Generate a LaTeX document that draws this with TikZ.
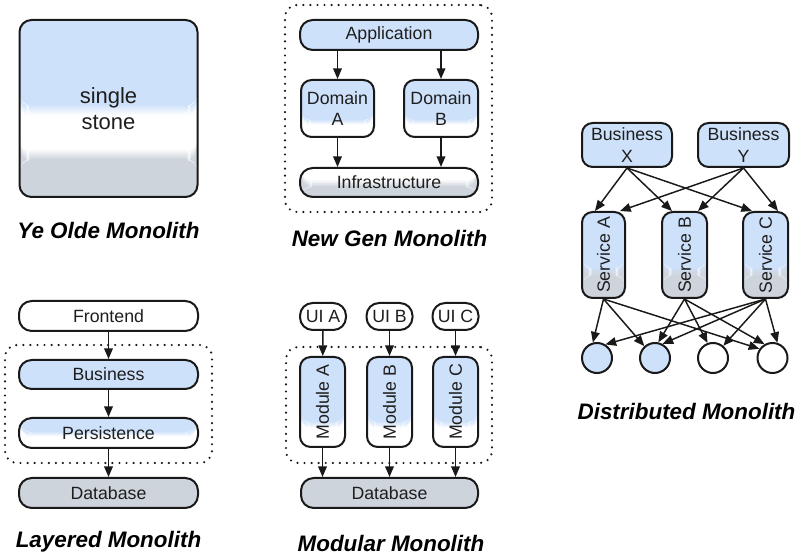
\documentclass[tikz,border=0pt]{standalone}
\usepackage{fontspec}
\usepackage{graphicx}
\setmainfont{Liberation Sans}
\usetikzlibrary{arrows.meta,calc}
\definecolor{lb}{RGB}{206,225,250}
\definecolor{lg}{RGB}{206,212,220}
\definecolor{ln}{RGB}{25,25,25}
\definecolor{tx}{RGB}{30,30,30}
\newcommand\gradband[4]{%
  \foreach \gi in {0,...,11}{%
    \pgfmathsetmacro\gfa{#3+(#4-#3)*\gi/12}%
    \pgfmathsetmacro\gfb{#3+(#4-#3)*(\gi+1)/12+0.004}%
    \pgfmathsetmacro\gpc{100-(\gi+0.5)*100/12}%
    \fill[#1!\gpc!#2] ($(pnw)!\gfa!(pnw|-pse)$) rectangle ($(pse|-pnw)!\gfb!(pse)$);
  }}
\begin{document}
\begin{tikzpicture}[x=0.75pt,y=-0.75pt,
  every node/.style={font=\fontsize{13.3}{16}\selectfont, text=tx},
  base/.style 2 args={draw=ln, line width=1.5pt, minimum width=#1*0.75pt, minimum height=#2*0.75pt, inner sep=0pt, align=center},
  pill/.style={rounded corners=9.5pt},
  rbox/.style={rounded corners=8pt},
  dotbox/.style 2 args={draw=ln, line width=1.8pt, dash pattern=on 0pt off 5.3pt, line cap=round, rounded corners=9pt, minimum width=#1*0.75pt, minimum height=#2*0.75pt, inner sep=0pt},
  twotone/.style n args={4}{path picture={
    \coordinate (pnw) at (path picture bounding box.north west);
    \coordinate (pse) at (path picture bounding box.south east);
    \fill[#1] (pnw) rectangle ($(pse|-pnw)!#3+0.004!(pse)$);
    \gradband{#1}{#2}{#3}{#4}
    \fill[#2] ($(pnw)!#4!(pnw|-pse)$) rectangle (pse);
  }},
  stonefill/.style={path picture={
    \coordinate (pnw) at (path picture bounding box.north west);
    \coordinate (pse) at (path picture bounding box.south east);
    \fill[lb] (pnw) rectangle ($(pse|-pnw)!0.484!(pse)$);
    \gradband{lb}{white}{0.48}{0.54}
    \fill[white] ($(pnw)!0.54!(pnw|-pse)$) rectangle ($(pse|-pnw)!0.734!(pse)$);
    \gradband{white}{lg}{0.73}{0.79}
    \fill[lg] ($(pnw)!0.79!(pnw|-pse)$) rectangle (pse);
  }},
  arr/.style={-{Triangle[length=8pt,width=6.5pt]}, line width=1.1pt, draw=ln},
  title/.style={font=\fontsize{16.8}{20}\selectfont\bfseries\itshape, text=black}
]
\path[use as bounding box] (0,0) rectangle (800,559);

% ---------- Ye Olde Monolith
\node[base={178}{177}, rounded corners=9pt, stonefill, font=\fontsize{16.5}{20}\selectfont] (stone) at (108.5,108.5) {single\\stone};
\node[title] (t1) at (108.5,231) {Ye Olde Monolith};

% ---------- New Gen Monolith
\node[dotbox={207}{207}] (ngbox) at (388.5,108.5) {};
\node[base={178}{30}, pill, fill=lb] (app) at (389,35) {Application};
\node[base={73}{57}, rbox, twotone={lb}{white}{0.70}{0.79}] (domA) at (337.5,108.5) {Domain\\A};
\node[base={74}{57}, rbox, twotone={lb}{white}{0.70}{0.79}] (domB) at (441,108.5) {Domain\\B};
\node[base={178}{29}, pill, twotone={white}{lg}{0.40}{0.65}] (infra) at (389,182.5) {Infrastructure};
\draw[arr] (app.south -| domA) -- (domA);
\draw[arr] (app.south -| domB) -- (domB);
\draw[arr] (domA) -- (domA |- infra.north);
\draw[arr] (domB) -- (domB |- infra.north);
\node[title] (t2) at (389.5,238.5) {New Gen Monolith};

% ---------- Layered Monolith
\node[dotbox={207}{118}] (lbox) at (108.5,404) {};
\node[base={179}{30}, pill, fill=white] (fe) at (108.5,316) {Frontend};
\node[base={179}{29}, pill, fill=lb] (bus) at (108.5,374.5) {Business};
\node[base={179}{30}, pill, twotone={lb}{white}{0.47}{0.63}] (per) at (108.5,433) {Persistence};
\node[base={179}{30}, pill, fill=lg] (db1) at (108.5,493) {Database};
\draw[arr] (fe) -- (bus);
\draw[arr] (bus) -- (per);
\draw[arr] (per) -- (db1);
\node[title] (t3) at (108.5,541.5) {Layered Monolith};

% ---------- Modular Monolith
\node[dotbox={206}{116}] (mbox) at (389,405) {};
\node[base={46}{27}, pill, fill=white] (uiA) at (323,316.5) {UI A};
\node[base={46}{27}, pill, fill=white] (uiB) at (389.5,316.5) {UI B};
\node[base={46}{27}, pill, fill=white] (uiC) at (455.5,316.5) {UI C};
\node[base={45}{90}, rbox, twotone={lb}{white}{0.72}{0.79}] (modA) at (322.5,402) {\rotatebox{90}{Module A}};
\node[base={45}{90}, rbox, twotone={lb}{white}{0.72}{0.79}] (modB) at (389.5,402) {\rotatebox{90}{Module B}};
\node[base={45}{90}, rbox, twotone={lb}{white}{0.72}{0.79}] (modC) at (455.5,402) {\rotatebox{90}{Module C}};
\node[base={177}{30}, pill, fill=lg] (db2) at (389.5,493) {Database};
\draw[arr] (uiA) -- (modA);
\draw[arr] (uiB) -- (modB);
\draw[arr] (uiC) -- (modC);
\draw[arr] (modA) -- (modA |- db2.north);
\draw[arr] (modB) -- (modB |- db2.north);
\draw[arr] (modC) -- (modC |- db2.north);
\node[title] (t4) at (391,543.5) {Modular Monolith};

% ---------- Distributed Monolith
\node[base={90}{44}, rbox, fill=lb, font=\fontsize{13.3}{16.5}\selectfont] (bx) at (627,145) {Business\\X};
\node[base={91}{44}, rbox, fill=lb, font=\fontsize{13.3}{16.5}\selectfont] (by) at (743.5,145) {Business\\Y};
\node[base={43}{86}, rbox, twotone={lb}{lg}{0.65}{0.74}] (sA) at (603.5,255) {\rotatebox{90}{Service A}};
\node[base={45}{86}, rbox, twotone={lb}{lg}{0.65}{0.74}] (sB) at (684.5,255) {\rotatebox{90}{Service B}};
\node[base={45}{86}, rbox, twotone={lb}{lg}{0.65}{0.74}] (sC) at (765.5,255) {\rotatebox{90}{Service C}};
\node[base={30}{30}, circle, fill=lb] (c1) at (597,358) {};
\node[base={30}{30}, circle, fill=lb] (c2) at (655,358) {};
\node[base={30}{30}, circle, fill=white] (c3) at (713,358) {};
\node[base={30}{30}, circle, fill=white] (c4) at (772.5,358) {};
\draw[arr] (bx.south) -- ([xshift=-6.4pt]sA.north);
\draw[arr] (bx.south) -- ([xshift=-9.4pt]sB.north);
\draw[arr] (bx.south) -- ([xshift=-10.1pt]sC.north);
\draw[arr] (by.south) -- ([xshift=12.4pt]sA.north);
\draw[arr] (by.south) -- ([xshift=10.1pt]sB.north);
\draw[arr] (by.south) -- ([xshift=9.4pt]sC.north);
\draw[arr] (sA.south) -- (c1.105);
\draw[arr] (sA.south) -- (c2.132);
\draw[arr] (sA.south) -- (c4.145);
\draw[arr] (sB.south) -- (c2.78);
\draw[arr] (sB.south) -- (c3.110);
\draw[arr] (sB.south) -- (c4.120);
\draw[arr] (sC.south) -- (c1.58);
\draw[arr] (sC.south) -- (c2.62);
\draw[arr] (sC.south) -- (c3.50);
\draw[arr] (sC.south) -- (c4.72);
\node[title] (t5) at (686.5,412) {Distributed Monolith};
\end{tikzpicture}
\end{document}
